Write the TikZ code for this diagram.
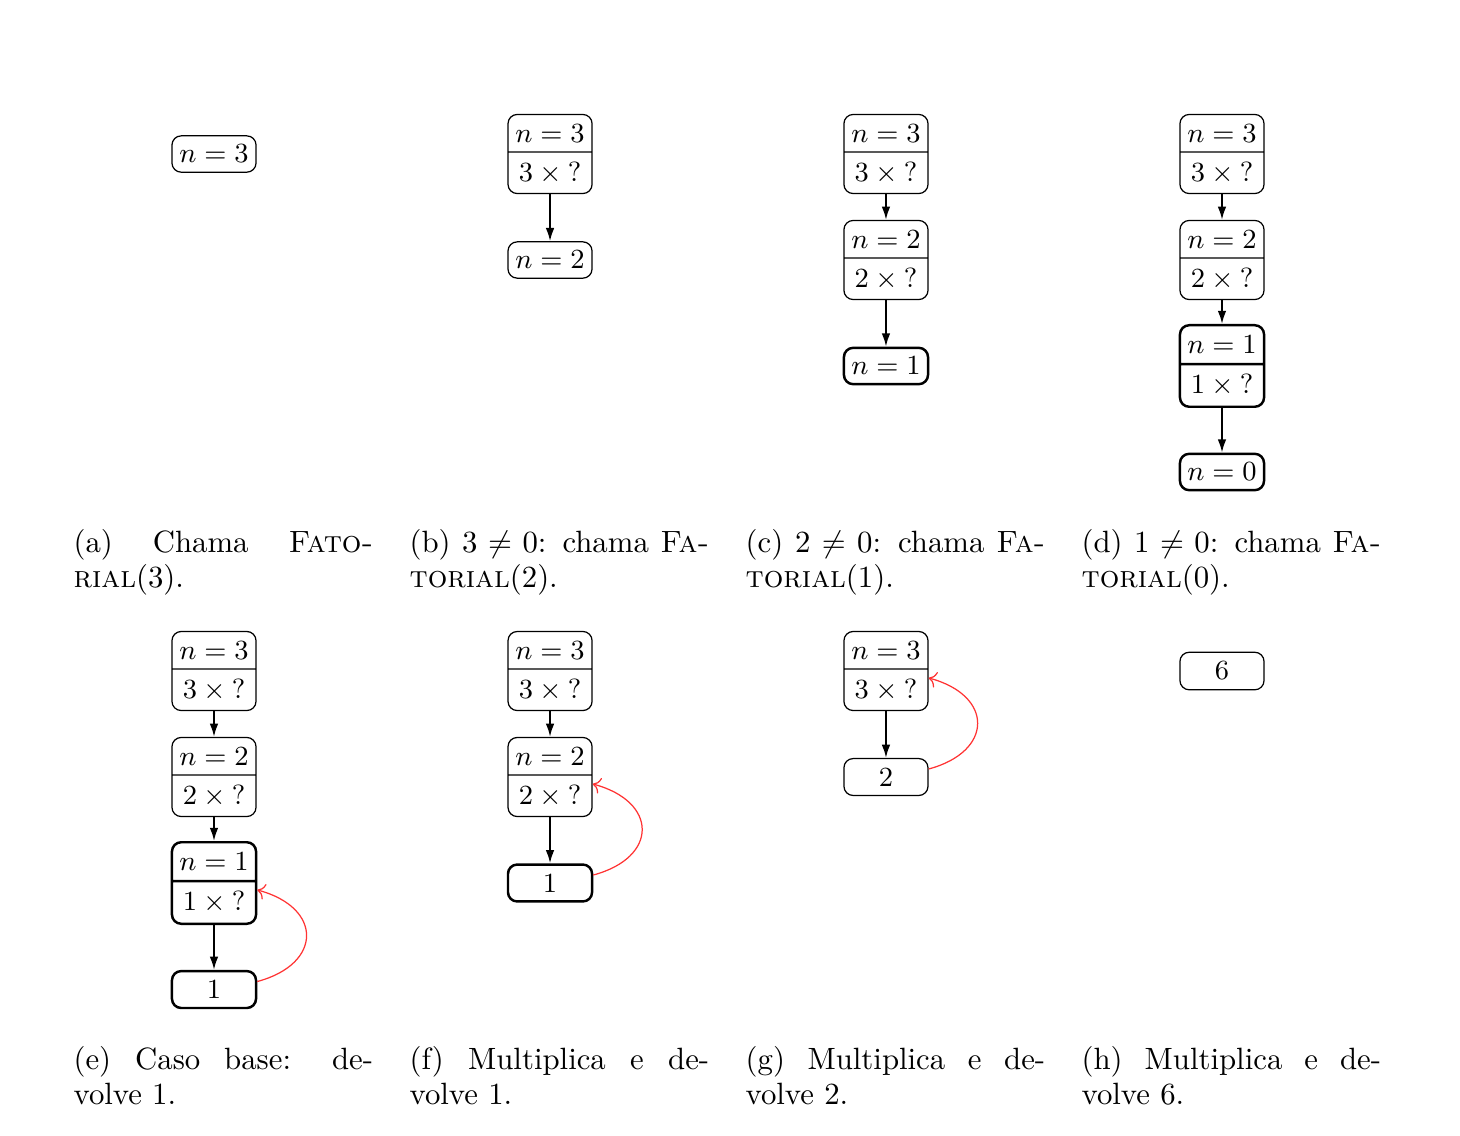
\documentclass[tikz,border=0pt]{standalone}
\usepackage{amsmath}
\usepackage{amssymb}
\usepackage{tikz}
\usetikzlibrary{arrows.meta, shapes.multipart}

\begin{document}
\begin{tikzpicture}[
      box/.style={draw, rounded corners=3pt, font=\small, minimum width=0.96cm, inner xsep=2pt, inner ysep=3pt},
      frame/.style={box, rectangle split, rectangle split parts=2},
      basecase/.style={line width=0.8pt},
      call/.style={-{Latex[length=4.3pt, width=2.8pt]}, semithick},
      ret/.style={->, red!80},
      subcap/.style={anchor=north west, inner sep=0pt, text width=3.42cm, align=justify, font=\fontsize{10}{11.4}\selectfont},
    ]
      \useasboundingbox (0,0) rectangle (16.667,-12.968);
      % (a) first call
      \node[box] (a3) at (2.443,-1.758) {$n = 3$};
      \node[subcap] (capa) at (0.833,-6.032) {(a) Chama \textsc{Fato-}\linebreak\textsc{rial}(3).};
      % (b)
      \node[frame] (b3) at (6.279,-1.758) {$n = 3$\nodepart{two}$3 \times {?}$};
      \node[box]   (b2) at (6.279,-2.968) {$n = 2$};
      \draw[call] (b3) -- (b2);
      \node[subcap] (capb) at (4.669,-6.032) {(b) $3 \neq 0$: chama \textsc{Fa-}\linebreak\textsc{torial}(2).};
      % (c)
      \node[frame] (c3) at (10.114,-1.758) {$n = 3$\nodepart{two}$3 \times {?}$};
      \node[frame] (c2) at (10.114,-2.968) {$n = 2$\nodepart{two}$2 \times {?}$};
      \node[box, basecase] (c1) at (10.114,-4.178) {$n = 1$};
      \draw[call] (c3) -- (c2);
      \draw[call] (c2) -- (c1);
      \node[subcap] (capc) at (8.505,-6.032) {(c) $2 \neq 0$: chama \textsc{Fa-}\linebreak\textsc{torial}(1).};
      % (d)
      \node[frame] (d3) at (13.950,-1.758) {$n = 3$\nodepart{two}$3 \times {?}$};
      \node[frame] (d2) at (13.950,-2.968) {$n = 2$\nodepart{two}$2 \times {?}$};
      \node[frame, basecase] (d1) at (13.950,-4.178) {$n = 1$\nodepart{two}$1 \times {?}$};
      \node[box, basecase] (d0) at (13.950,-5.388) {$n = 0$};
      \draw[call] (d3) -- (d2);
      \draw[call] (d2) -- (d1);
      \draw[call] (d1) -- (d0);
      \node[subcap] (capd) at (12.340,-6.032) {(d) $1 \neq 0$: chama \textsc{Fa-}\linebreak\textsc{torial}(0).};
      % (e) base case returns
      \node[frame] (e3) at (2.443,-7.660) {$n = 3$\nodepart{two}$3 \times {?}$};
      \node[frame] (e2) at (2.443,-8.870) {$n = 2$\nodepart{two}$2 \times {?}$};
      \node[frame, basecase] (e1) at (2.443,-10.080) {$n = 1$\nodepart{two}$1 \times {?}$};
      \node[box, basecase] (e0) at (2.443,-11.296) {1};
      \draw[call] (e3) -- (e2);
      \draw[call] (e2) -- (e1);
      \draw[call] (e1) -- (e0);
      \draw[ret] ([yshift=2.6pt]e0.east) to[out=15, in=-15, looseness=1.9] ([yshift=-2.9pt]e1.text split east);
      \node[subcap] (cape) at (0.833,-11.934) {(e) Caso base: de-\linebreak volve 1.};
      % (f)
      \node[frame] (f3) at (6.279,-7.660) {$n = 3$\nodepart{two}$3 \times {?}$};
      \node[frame] (f2) at (6.279,-8.870) {$n = 2$\nodepart{two}$2 \times {?}$};
      \node[box, basecase] (f1) at (6.279,-10.080) {1};
      \draw[call] (f3) -- (f2);
      \draw[call] (f2) -- (f1);
      \draw[ret] ([yshift=2.6pt]f1.east) to[out=15, in=-15, looseness=1.9] ([yshift=-2.9pt]f2.text split east);
      \node[subcap] (capf) at (4.669,-11.934) {(f) Multiplica e de-\linebreak volve 1.};
      % (g)
      \node[frame] (g3) at (10.114,-7.660) {$n = 3$\nodepart{two}$3 \times {?}$};
      \node[box]   (g2) at (10.114,-8.870) {2};
      \draw[call] (g3) -- (g2);
      \draw[ret] ([yshift=2.6pt]g2.east) to[out=15, in=-15, looseness=1.9] ([yshift=-2.9pt]g3.text split east);
      \node[subcap] (capg) at (8.505,-11.934) {(g) Multiplica e de-\linebreak volve 2.};
      % (h)
      \node[box] (h6) at (13.950,-7.660) {6};
      \node[subcap] (caph) at (12.340,-11.934) {(h) Multiplica e de-\linebreak volve 6.};
    \end{tikzpicture}
\end{document}
